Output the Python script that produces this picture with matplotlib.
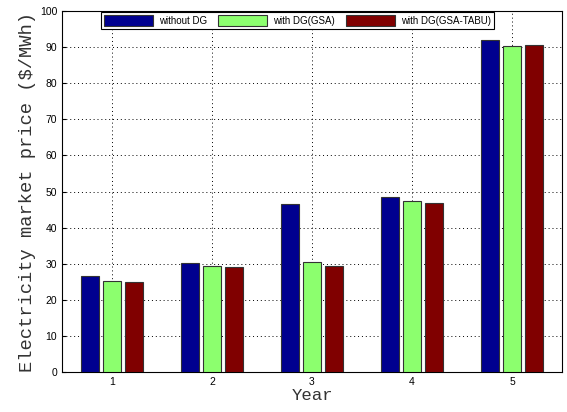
import numpy as np
import matplotlib.pyplot as plt

years = [1, 2, 3, 4, 5]
without_dg = [26.5, 30.2, 46.5, 48.5, 92.0]
with_gsa = [25.1, 29.4, 30.4, 47.3, 90.3]
with_gsa_tabu = [25.0, 29.2, 29.3, 46.8, 90.5]
labels = ['without DG', 'with DG(GSA)', 'with DG(GSA-TABU)']
colors = ['#00008f', '#8cff6e', '#800000']

fig = plt.figure(figsize=(5.67, 4.12), dpi=100)
ax = fig.add_axes([0.1093, 0.097, 0.882, 0.876])

x = np.array(years)
width = 0.18
offset = 0.224
for i, vals in enumerate([without_dg, with_gsa, with_gsa_tabu]):
    ax.bar(x + (i - 1) * offset, vals, width, color=colors[i],
           edgecolor='#333333', linewidth=0.8, label=labels[i], zorder=3)

ax.set_xlim(0.5, 5.5)
ax.set_ylim(0, 100)
ax.set_xticks(years)
ax.set_yticks(np.arange(0, 101, 10))
ax.tick_params(direction='in', labelsize=7.5, length=3)
for lab in ax.get_xticklabels() + ax.get_yticklabels():
    lab.set_family('Liberation Sans')
ax.grid(True, linestyle=(0, (1, 3)), color='black', linewidth=0.7, zorder=0)
for s in ax.spines.values():
    s.set_linewidth(0.8)

# courier-style axis labels, a bit thin and grey like the original
ax.set_xlabel('Year', family='Liberation Mono', fontsize=12.5, labelpad=1,
              color='#333333')
ax.set_ylabel('Electricity market price ($/MWh)', family='Liberation Mono',
              fontsize=13.5, labelpad=3, color='#333333')

leg = ax.legend(loc='upper center', bbox_to_anchor=(0.471, 1.0), ncol=3,
                prop={'family': 'Liberation Sans', 'size': 7},
                fancybox=False, edgecolor='black', framealpha=1,
                handlelength=5, handleheight=1.4, columnspacing=1.2,
                handletextpad=0.6, borderpad=0.3, borderaxespad=0.1)
leg.get_frame().set_linewidth(0.8)

fig.savefig('out.png', dpi=100)
